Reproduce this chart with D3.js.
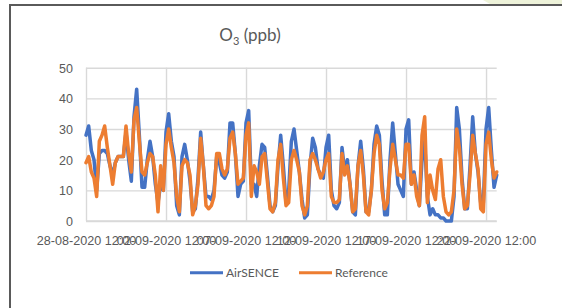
<!DOCTYPE html>
<html>
<head>
<meta charset="utf-8">
<script src="https://cdn.jsdelivr.net/npm/d3@7"></script>
<style>
  body { margin: 0; background: #fff; }
  svg { display: block; font-family: Lato, "Open Sans", sans-serif; }
</style>
</head>
<body>
<div id="chart_div"></div>
<script>
// O3 readings, one value every 4 hours from 28-08-2020 12:00
var startTime = "2020-08-28T12:00";
var stepHours = 4;

var airsence = [
  28, 31, 23, 20, 10, 22, 23, 23, 22, 18, 15, 19, 21, 21, 21, 29, 20, 13, 34, 43,
  28, 11, 11, 20, 26, 21, 12, 6, 12, 10, 29, 35, 26, 21, 5, 2, 21, 25, 20, 13,
  3, 4, 14, 29, 18, 8, 8, 7, 10, 21, 19, 15, 14, 16, 32, 32, 22, 8, 12, 13,
  32, 36, 12, 12, 8, 18, 25, 24, 15, 5, 3, 5, 18, 28, 18, 6, 10, 26, 30, 23,
  16, 7, 1, 2, 18, 27, 24, 17, 15, 14, 24, 28, 10, 5, 4, 6, 24, 16, 20, 12,
  3, 2, 18, 26, 17, 3, 3, 10, 25, 31, 28, 13, 2, 2, 20, 32, 22, 12, 10, 8,
  30, 33, 12, 16, 10, 5, 20, 26, 8, 2, 4, 2, 2, 1, 1, 0, 0, 0, 8, 37,
  30, 14, 4, 4, 18, 34, 22, 16, 6, 6, 30, 37, 23, 11, 15
];

var reference = [
  19, 21, 16, 14, 8, 26, 28, 31, 24, 18, 12, 19, 21, 21, 21, 31, 22, 16, 33, 37,
  26, 16, 15, 19, 22, 21, 15, 3, 18, 10, 25, 30, 24, 19, 8, 3, 18, 20, 19, 15,
  2, 5, 12, 27, 18, 5, 4, 5, 8, 22, 22, 17, 15, 17, 27, 29, 22, 12, 13, 14,
  28, 32, 8, 18, 16, 12, 21, 22, 13, 4, 3, 6, 20, 25, 14, 5, 6, 20, 23, 20,
  16, 5, 2, 5, 20, 22, 20, 17, 14, 16, 20, 22, 8, 6, 6, 7, 22, 15, 18, 12,
  3, 4, 18, 23, 15, 3, 2, 10, 22, 28, 25, 10, 4, 6, 17, 25, 20, 15, 15, 14,
  25, 25, 12, 15, 8, 5, 28, 34, 6, 15, 10, 7, 17, 20, 8, 3, 2, 3, 10, 30,
  24, 12, 4, 5, 15, 28, 22, 17, 4, 3, 25, 29, 20, 14, 16
];

var seriesNames = ["AirSENCE", "Reference"];
var seriesColors = ["#4472C4", "#ED7D31"];
var tickLabels = ["28-08-2020 12:00", "02-09-2020 12:00", "07-09-2020 12:00",
                  "12-09-2020 12:00", "17-09-2020 12:00", "22-09-2020 12:00"];
var yTicks = [0, 10, 20, 30, 40, 50];

var width = 562, height = 308;
var plot = {left: 86, right: 496.7, top: 67.7, bottom: 221};

var svg = d3.select("#chart_div")
  .append("svg")
  .attr("width", width)
  .attr("height", height);

// chart frame + corner decoration
svg.append("rect")
  .attr("x", 10).attr("y", 5)
  .attr("width", 700).attr("height", 400)
  .attr("fill", "#fff")
  .attr("stroke", "#5a5a5a")
  .attr("stroke-width", 2);
svg.append("polygon")
  .attr("points", "483,0 562,0 562,4 490,4")
  .attr("fill", "#EEF3DA");

var parseStart = d3.timeParse("%Y-%m-%dT%H:%M");
var parseTick = d3.timeParse("%d-%m-%Y %H:%M");
var t0 = parseStart(startTime);
var times = airsence.map(function(d, i) { return d3.timeHour.offset(t0, i * stepHours); });

var xScale = d3.scaleTime()
  .domain([times[0], times[times.length - 1]])
  .range([plot.left, plot.right]);
var yScale = d3.scaleLinear()
  .domain([0, 50])
  .range([plot.bottom, plot.top]);

// y axis with gridlines
var yAxis = d3.axisLeft(yScale)
  .tickValues(yTicks)
  .tickSize(-(plot.right - plot.left))
  .tickPadding(13);
var gy = svg.append("g")
  .attr("transform", "translate(" + plot.left + ",0)")
  .call(yAxis);
gy.select(".domain").remove();
gy.selectAll("line").attr("stroke", "#D9D9D9").attr("stroke-width", 1.4);
gy.selectAll("text")
  .attr("fill", "#595959")
  .style("font-size", "12.5px")
  .attr("dy", "0.35em");

// x axis with vertical gridlines
var xAxis = d3.axisBottom(xScale)
  .tickValues(tickLabels.map(parseTick))
  .tickFormat(d3.timeFormat("%d-%m-%Y %H:%M"))
  .tickSize(-(plot.bottom - plot.top));
var gx = svg.append("g")
  .attr("transform", "translate(0," + plot.bottom + ")")
  .call(xAxis);
gx.select(".domain").remove();
gx.selectAll("line").attr("stroke", "#D9D9D9").attr("stroke-width", 1.4);
gx.selectAll("text")
  .attr("fill", "#595959")
  .style("font-size", "12.6px")
  .attr("y", 20)
  .attr("dy", "0.35em");

// bottom axis line
svg.append("line")
  .attr("x1", plot.left).attr("x2", plot.right)
  .attr("y1", plot.bottom).attr("y2", plot.bottom)
  .attr("stroke", "#D9D9D9").attr("stroke-width", 1.4);

// lines
var line = d3.line()
  .x(function(d, i) { return xScale(times[i]); })
  .y(function(d) { return yScale(d); });

[airsence, reference].forEach(function(series, k) {
  svg.append("path")
    .datum(series)
    .attr("fill", "none")
    .attr("stroke", seriesColors[k])
    .attr("stroke-width", 3.5)
    .attr("stroke-linejoin", "round")
    .attr("stroke-linecap", "round")
    .attr("d", line);
});

// title
var title = svg.append("text")
  .attr("x", 250).attr("y", 41)
  .attr("text-anchor", "middle")
  .attr("fill", "#595959")
  .style("font-size", "17px");
title.append("tspan").text("O");
title.append("tspan").attr("dy", 4).style("font-size", "11px").text("3");
title.append("tspan").attr("dy", -4).text(" (ppb)");

// legend
var legendX = [190, 299];
seriesNames.forEach(function(name, k) {
  svg.append("line")
    .attr("x1", legendX[k]).attr("x2", legendX[k] + 33)
    .attr("y1", 272.7).attr("y2", 272.7)
    .attr("stroke", seriesColors[k])
    .attr("stroke-width", 3);
  svg.append("text")
    .attr("x", legendX[k] + 36).attr("y", 272.7)
    .attr("dy", "0.35em")
    .attr("fill", "#595959")
    .style("font-size", "12px")
    .text(name);
});
</script>
</body>
</html>
